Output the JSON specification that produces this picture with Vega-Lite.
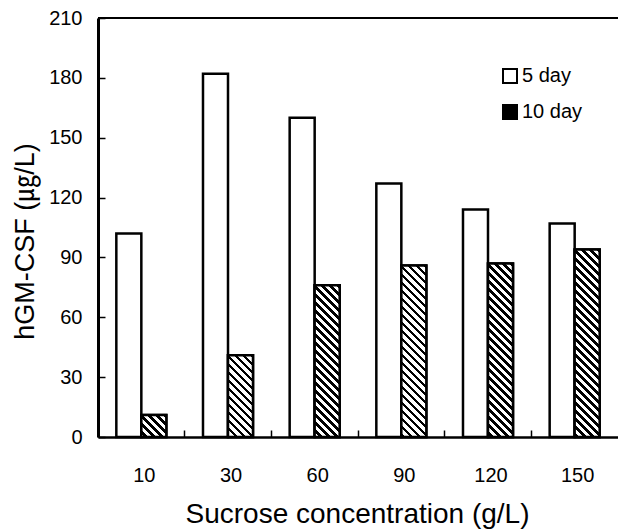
{
  "$schema": "https://vega.github.io/schema/vega-lite/v6.json",
  "width": 520,
  "height": 419,
  "autosize": "none",
  "padding": {"left": 98, "top": 18, "right": 0, "bottom": 92},
  "background": "white",
  "config": {"view": {"stroke": null}, "font": "Liberation Sans"},
  "params": [
    {"name": "hatch", "value": [
      {"offset":0,"color":"#000"},{"offset":0.015,"color":"#000"},{"offset":0.015,"color":"#fff"},{"offset":0.0333,"color":"#fff"},
      {"offset":0.0333,"color":"#000"},{"offset":0.0483,"color":"#000"},{"offset":0.0483,"color":"#fff"},{"offset":0.0667,"color":"#fff"},
      {"offset":0.0667,"color":"#000"},{"offset":0.0817,"color":"#000"},{"offset":0.0817,"color":"#fff"},{"offset":0.1,"color":"#fff"},
      {"offset":0.1,"color":"#000"},{"offset":0.115,"color":"#000"},{"offset":0.115,"color":"#fff"},{"offset":0.1333,"color":"#fff"},
      {"offset":0.1333,"color":"#000"},{"offset":0.1483,"color":"#000"},{"offset":0.1483,"color":"#fff"},{"offset":0.1667,"color":"#fff"},
      {"offset":0.1667,"color":"#000"},{"offset":0.1817,"color":"#000"},{"offset":0.1817,"color":"#fff"},{"offset":0.2,"color":"#fff"},
      {"offset":0.2,"color":"#000"},{"offset":0.215,"color":"#000"},{"offset":0.215,"color":"#fff"},{"offset":0.2333,"color":"#fff"},
      {"offset":0.2333,"color":"#000"},{"offset":0.2483,"color":"#000"},{"offset":0.2483,"color":"#fff"},{"offset":0.2667,"color":"#fff"},
      {"offset":0.2667,"color":"#000"},{"offset":0.2817,"color":"#000"},{"offset":0.2817,"color":"#fff"},{"offset":0.3,"color":"#fff"},
      {"offset":0.3,"color":"#000"},{"offset":0.315,"color":"#000"},{"offset":0.315,"color":"#fff"},{"offset":0.3333,"color":"#fff"},
      {"offset":0.3333,"color":"#000"},{"offset":0.3483,"color":"#000"},{"offset":0.3483,"color":"#fff"},{"offset":0.3667,"color":"#fff"},
      {"offset":0.3667,"color":"#000"},{"offset":0.3817,"color":"#000"},{"offset":0.3817,"color":"#fff"},{"offset":0.4,"color":"#fff"},
      {"offset":0.4,"color":"#000"},{"offset":0.415,"color":"#000"},{"offset":0.415,"color":"#fff"},{"offset":0.4333,"color":"#fff"},
      {"offset":0.4333,"color":"#000"},{"offset":0.4483,"color":"#000"},{"offset":0.4483,"color":"#fff"},{"offset":0.4667,"color":"#fff"},
      {"offset":0.4667,"color":"#000"},{"offset":0.4817,"color":"#000"},{"offset":0.4817,"color":"#fff"},{"offset":0.5,"color":"#fff"},
      {"offset":0.5,"color":"#000"},{"offset":0.515,"color":"#000"},{"offset":0.515,"color":"#fff"},{"offset":0.5333,"color":"#fff"},
      {"offset":0.5333,"color":"#000"},{"offset":0.5483,"color":"#000"},{"offset":0.5483,"color":"#fff"},{"offset":0.5667,"color":"#fff"},
      {"offset":0.5667,"color":"#000"},{"offset":0.5817,"color":"#000"},{"offset":0.5817,"color":"#fff"},{"offset":0.6,"color":"#fff"},
      {"offset":0.6,"color":"#000"},{"offset":0.615,"color":"#000"},{"offset":0.615,"color":"#fff"},{"offset":0.6333,"color":"#fff"},
      {"offset":0.6333,"color":"#000"},{"offset":0.6483,"color":"#000"},{"offset":0.6483,"color":"#fff"},{"offset":0.6667,"color":"#fff"},
      {"offset":0.6667,"color":"#000"},{"offset":0.6817,"color":"#000"},{"offset":0.6817,"color":"#fff"},{"offset":0.7,"color":"#fff"},
      {"offset":0.7,"color":"#000"},{"offset":0.715,"color":"#000"},{"offset":0.715,"color":"#fff"},{"offset":0.7333,"color":"#fff"},
      {"offset":0.7333,"color":"#000"},{"offset":0.7483,"color":"#000"},{"offset":0.7483,"color":"#fff"},{"offset":0.7667,"color":"#fff"},
      {"offset":0.7667,"color":"#000"},{"offset":0.7817,"color":"#000"},{"offset":0.7817,"color":"#fff"},{"offset":0.8,"color":"#fff"},
      {"offset":0.8,"color":"#000"},{"offset":0.815,"color":"#000"},{"offset":0.815,"color":"#fff"},{"offset":0.8333,"color":"#fff"},
      {"offset":0.8333,"color":"#000"},{"offset":0.8483,"color":"#000"},{"offset":0.8483,"color":"#fff"},{"offset":0.8667,"color":"#fff"},
      {"offset":0.8667,"color":"#000"},{"offset":0.8817,"color":"#000"},{"offset":0.8817,"color":"#fff"},{"offset":0.9,"color":"#fff"},
      {"offset":0.9,"color":"#000"},{"offset":0.915,"color":"#000"},{"offset":0.915,"color":"#fff"},{"offset":0.9333,"color":"#fff"},
      {"offset":0.9333,"color":"#000"},{"offset":0.9483,"color":"#000"},{"offset":0.9483,"color":"#fff"},{"offset":0.9667,"color":"#fff"},
      {"offset":0.9667,"color":"#000"},{"offset":0.9817,"color":"#000"},{"offset":0.9817,"color":"#fff"},{"offset":1,"color":"#fff"}
    ]}
  ],
  "data": {"values": [
    {"conc": "10", "day": "5 day", "v": 102},
    {"conc": "10", "day": "10 day", "v": 11},
    {"conc": "30", "day": "5 day", "v": 182},
    {"conc": "30", "day": "10 day", "v": 41},
    {"conc": "60", "day": "5 day", "v": 160},
    {"conc": "60", "day": "10 day", "v": 76},
    {"conc": "90", "day": "5 day", "v": 127},
    {"conc": "90", "day": "10 day", "v": 86},
    {"conc": "120", "day": "5 day", "v": 114},
    {"conc": "120", "day": "10 day", "v": 87},
    {"conc": "150", "day": "5 day", "v": 107},
    {"conc": "150", "day": "10 day", "v": 94}
  ]},
  "encoding": {
    "x": {
      "field": "conc", "type": "nominal", "sort": null,
      "scale": {"paddingInner": 0, "paddingOuter": 0},
      "axis": {
        "title": "Sucrose concentration (g/L)",
        "titleFont": "Liberation Sans", "titleFontSize": 28, "titleFontWeight": "normal", "titleColor": "black",
        "titleBaseline": "alphabetic", "titleY": 85, "titleX": 259, "titleAlign": "center",
        "labelAngle": 0, "labelFont": "Liberation Sans", "labelFontSize": 20, "labelColor": "black",
        "labelBaseline": "alphabetic", "labelPadding": 51, "labelOffset": 3,
        "bandPosition": 0, "tickSize": -7, "tickWidth": 1.5, "tickColor": "black",
        "domainColor": "black", "domainWidth": 2.5, "grid": false
      }
    },
    "xOffset": {
      "field": "day", "type": "nominal",
      "scale": {"domain": ["5 day", "10 day"], "paddingInner": 0, "paddingOuter": 0.733}
    },
    "y": {
      "field": "v", "type": "quantitative",
      "scale": {"domain": [0, 210], "nice": false},
      "axis": {
        "values": [0, 30, 60, 90, 120, 150, 180, 210],
        "title": "hGM-CSF (㎍/L)",
        "titleFont": "Liberation Sans, Noto Sans CJK KR", "titleFontSize": 27, "titleFontWeight": "normal", "titleColor": "black",
        "titleBaseline": "alphabetic", "titleX": -65, "titleY": 223, "titleAlign": "center", "titleAngle": -90,
        "labelFont": "Liberation Sans", "labelFontSize": 20, "labelColor": "black", "labelPadding": 23,
        "tickSize": -7, "tickWidth": 1.5, "tickColor": "black",
        "domainColor": "black", "domainWidth": 3, "grid": false
      }
    }
  },
  "layer": [
    {
      "mark": {"type": "bar", "stroke": "black", "strokeWidth": 2.5},
      "encoding": {
        "fill": {
          "field": "day", "type": "nominal",
          "scale": {"domain": ["5 day", "10 day"], "range": ["white", "black"]},
          "legend": {
            "title": null, "orient": "none", "legendX": 402, "legendY": 48,
            "direction": "vertical",
            "symbolType": "square", "symbolSize": 196, "symbolStrokeColor": "black", "symbolStrokeWidth": 2,
            "labelFont": "Liberation Sans", "labelFontSize": 20, "labelColor": "black", "labelOffset": 2,
            "rowPadding": 14
          }
        }
      }
    },
    {
      "transform": [{"filter": "datum.day === '10 day'"}],
      "mark": {
        "type": "bar", "stroke": "black", "strokeWidth": 2.5,
        "fill": {"expr": "{gradient: 'linear', x1: 1, y1: 0, x2: 1 - 240 * bandwidth('xOffset') / (pow(bandwidth('xOffset'), 2) + pow(scale('y', 0) - scale('y', datum.v), 2)), y2: 240 * (scale('y', 0) - scale('y', datum.v)) / (pow(bandwidth('xOffset'), 2) + pow(scale('y', 0) - scale('y', datum.v), 2)), stops: hatch}"}
      },
      "encoding": {}
    },
    {
      "mark": {"type": "rule", "stroke": "black", "strokeWidth": 2},
      "encoding": {"x": null, "xOffset": null, "y": {"datum": 210, "type": "quantitative"}}
    }
  ]
}
